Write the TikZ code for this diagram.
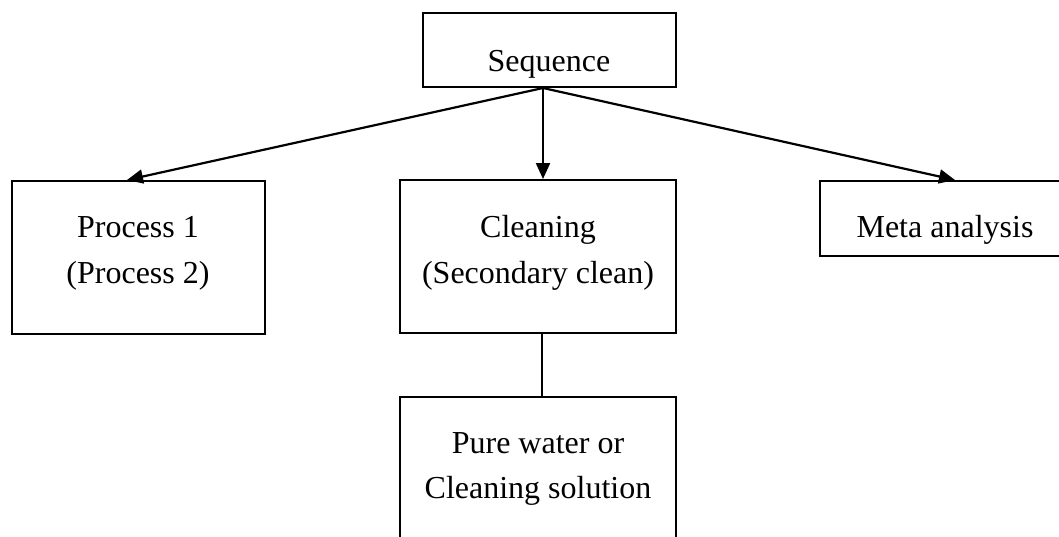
\documentclass[tikz,border=0pt]{standalone}
\usepackage{fontspec}
\setmainfont{Liberation Serif}
\usetikzlibrary{arrows.meta,calc}
\begin{document}
\begin{tikzpicture}[x=1pt,y=-1pt,
  box/.style={draw,line width=2pt,inner sep=0pt},
  lbl/.style={anchor=base,font=\fontsize{32}{38}\selectfont,inner sep=0pt},
  arr/.style={line width=2.2pt,-{Triangle[length=16pt,width=14pt]}},
  link/.style={line width=1.6pt}]
\useasboundingbox (0,0) rectangle (1059,536);
% boxes
\node[box,minimum width=253pt,minimum height=74pt] (seq) at (549.5,50) {};
\node[box,minimum width=253pt,minimum height=153pt] (proc) at (138.5,257.5) {};
\node[box,minimum width=276pt,minimum height=153pt] (clean) at (538,256.5) {};
\node[box,minimum width=250pt,minimum height=75pt] (meta) at (945,218.5) {};
\node[box,minimum width=276pt,minimum height=163pt] (pure) at (538,478.5) {};
% labels
\node[lbl] (seqt) at (549,71) {Sequence};
\node[lbl] (proct1) at (138,237) {Process 1};
\node[lbl] (proct2) at (138,283) {(Process 2)};
\node[lbl] (cleant1) at (538,237) {Cleaning};
\node[lbl] (cleant2) at (538,283) {(Secondary clean)};
\node[lbl] (metat) at (945,237) {Meta analysis};
\node[lbl] (puret1) at (538,453) {Pure water or};
\node[lbl] (puret2) at (538,498) {Cleaning solution};
% connectors
\coordinate (src) at ($(seq.south)+(-6.5,0)$);
\draw[arr] (src) -- ($(proc.north)+(-11.5,0)$);
\draw[arr] (src) -- ($(clean.north)+(5,0)$);
\draw[arr] (src) -- ($(meta.north)+(10,0)$);
\draw[link] ($(clean.south)+(4,0)$) -- ($(pure.north)+(4,0)$);
\end{tikzpicture}
\end{document}
